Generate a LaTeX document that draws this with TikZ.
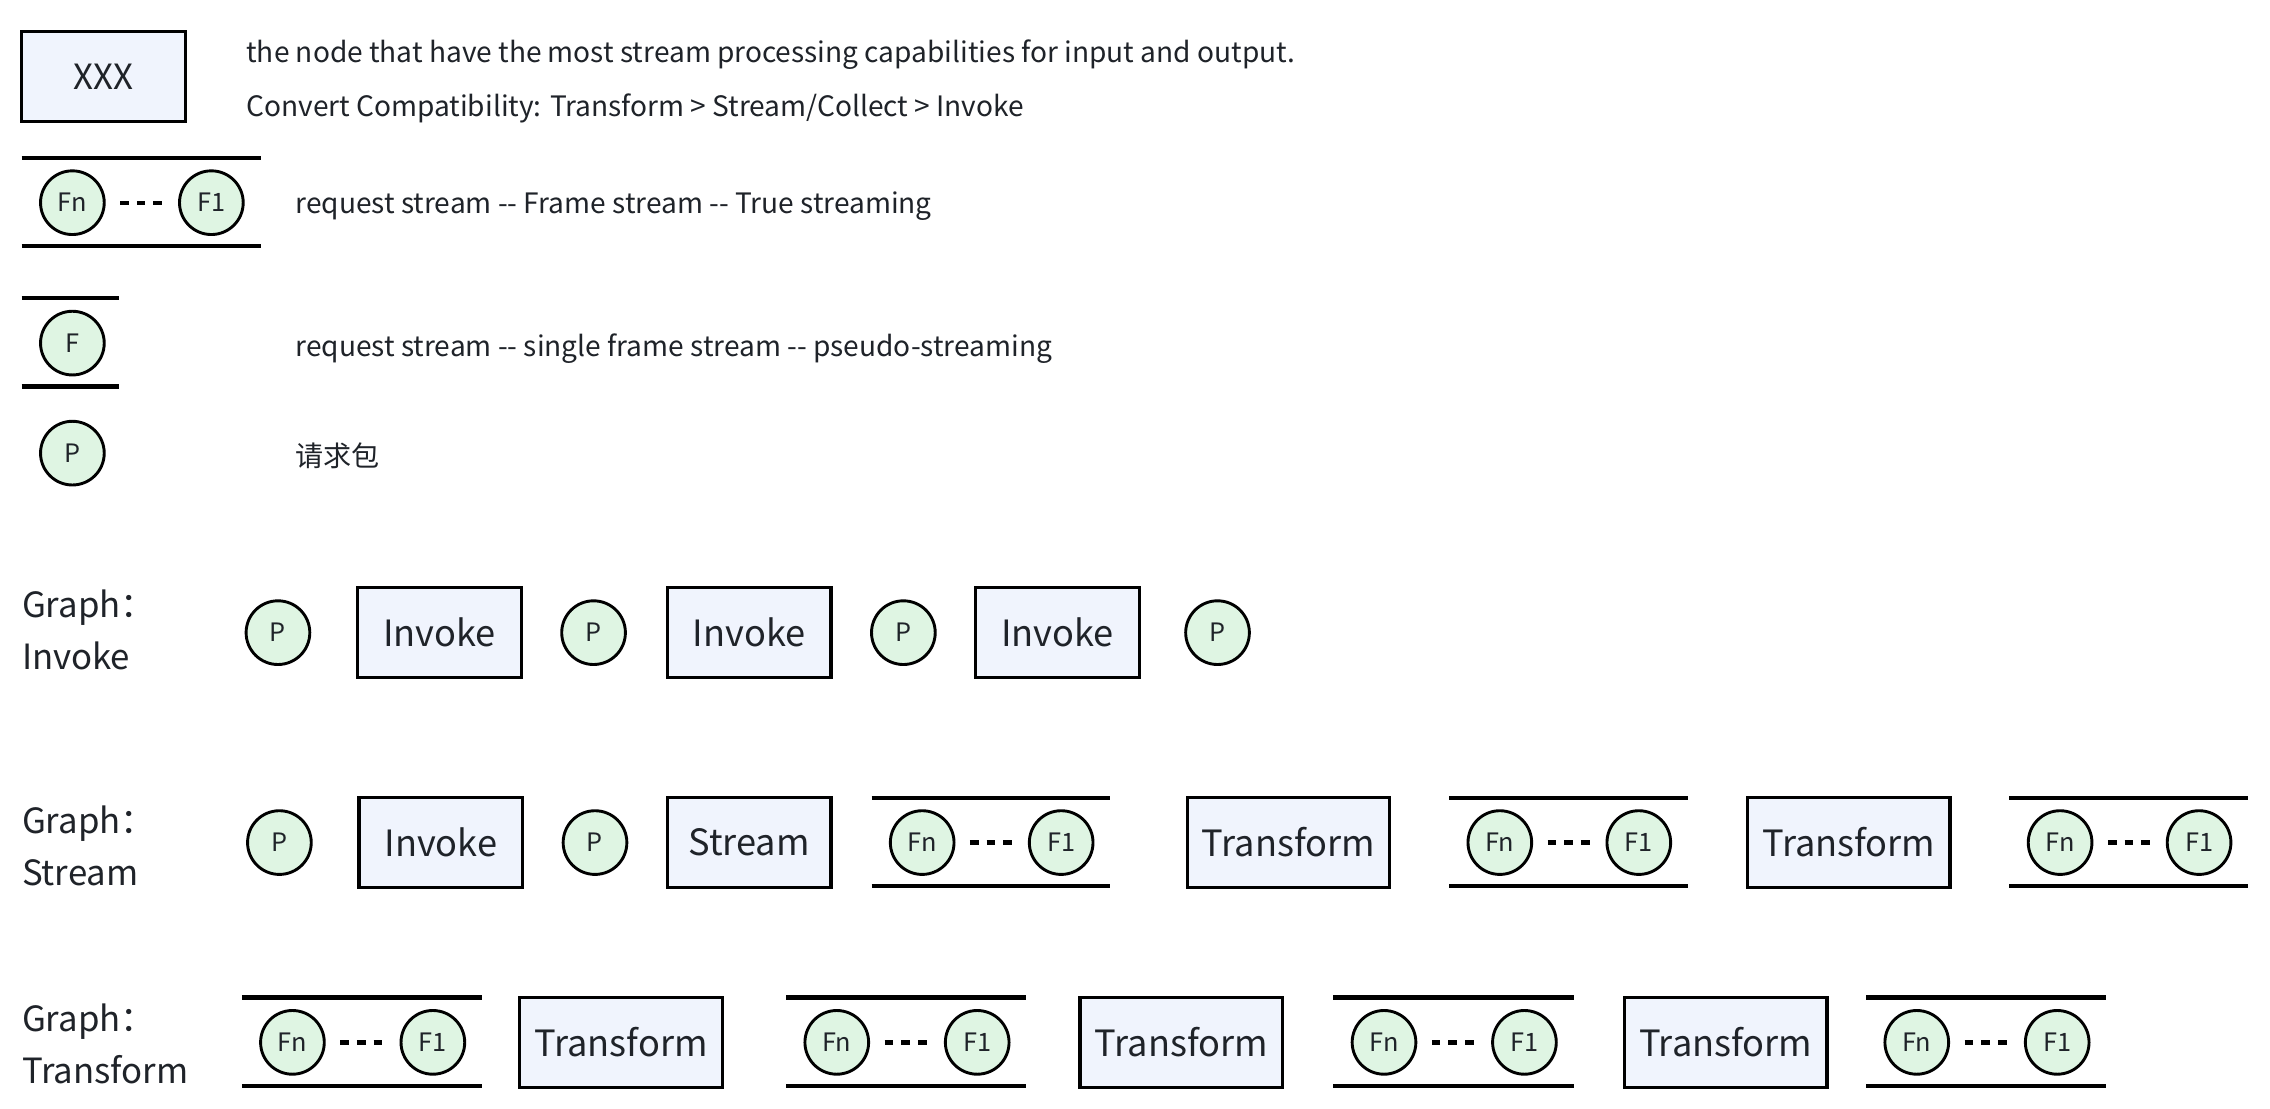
\documentclass[tikz,border=0pt]{standalone}
\usepackage{fontspec}
\setmainfont{Noto Sans CJK SC}[Ligatures=TeXOff]
\usepackage{xcolor}
\usetikzlibrary{positioning}
\definecolor{boxfill}{RGB}{240,244,253}
\definecolor{framefill}{RGB}{223,245,227}
\definecolor{ink}{RGB}{31,35,41}
\tikzset{
  nodebox/.style={draw=black, fill=boxfill, line width=2.2pt, minimum width=113pt, minimum height=62pt, inner sep=0pt, outer sep=0pt, text=ink, font=\fontsize{25}{30}\selectfont},
  widebox/.style={nodebox, minimum width=140pt},
  frame/.style={circle, draw=black, fill=framefill, line width=2pt, minimum size=44pt, inner sep=0pt, outer sep=0pt, text=ink, font=\fontsize{17.5}{20}\selectfont},
  bar/.style={line width=3pt},
  dots/.style={line width=3pt, dash pattern=on 6pt off 5.5pt},
  legend/.style={anchor=west, inner sep=0pt, text=ink, font=\fontsize{19.4}{23}\selectfont},
  graphlabel/.style={anchor=west, align=left, inner sep=0pt, text=ink, font=\fontsize{24}{36}\selectfont},
}

\begin{document}
\begin{tikzpicture}[x=1pt, y=-1pt]
        \path[use as bounding box, fill=white] (0,0) rectangle (1568,766);
        % legend
        \node[nodebox, font=\fontsize{24}{28}\selectfont] (key) at (71.5,53) {XXX};
        \node[legend] (keytext) at (170,38) {the node that have the most stream processing capabilities for input and output.};
        \node[legend] (convtext) at (170,75) {Convert Compatibility: Transform > Stream/Collect > Invoke};
        \node[frame] (keyn) at (50,140) {Fn};
        \node[frame, right=52pt of keyn] (key1) {F1};
        \node[legend] (streamtext) at (204,142.5) {request stream -- Frame stream -- True streaming};
        \node[frame] (keyf) at (50,237) {F};
        \node[legend] (singletext) at (204,240.5) {request stream -- single frame stream -- pseudo-streaming};
        \node[frame] (keyp) at (50,313) {P};
        \node[legend] (packettext) at (204,315) {请求包};
        % graph: invoke
        \node[graphlabel] (ginvoke) at (15,435) {Graph：\\Invoke};
        \node[frame] (ip1) at (192,437) {P};
        \node[nodebox, right=33pt of ip1] (inv1) {Invoke};
        \node[frame, right=28pt of inv1] (ip2) {P};
        \node[nodebox, right=29pt of ip2] (inv2) {Invoke};
        \node[frame, right=28pt of inv2] (ip3) {P};
        \node[nodebox, right=28pt of ip3] (inv3) {Invoke};
        \node[frame, right=32pt of inv3] (ip4) {P};
        % graph: stream
        \node[graphlabel] (gstream) at (15,584) {Graph：\\Stream};
        \node[frame] (sp1) at (193,582) {P};
        \node[nodebox, right=33pt of sp1] (sinv) {Invoke};
        \node[frame, right=28pt of sinv] (sp2) {P};
        \node[nodebox, right=28pt of sp2] (sstream) {Stream};
        \node[frame, right=41pt of sstream] (sAn) {Fn};
        \node[frame, right=52pt of sAn] (sA1) {F1};
        \node[widebox, right=65pt of sA1] (strans1) {Transform};
        \node[frame, right=54pt of strans1] (sBn) {Fn};
        \node[frame, right=52pt of sBn] (sB1) {F1};
        \node[widebox, right=53pt of sB1] (strans2) {Transform};
        \node[frame, right=54pt of strans2] (sCn) {Fn};
        \node[frame, right=52pt of sCn] (sC1) {F1};
        % graph: transform
        \node[graphlabel] (gtrans) at (15,721) {Graph：\\Transform};
        \node[frame] (tAn) at (202,720) {Fn};
        \node[frame, right=53pt of tAn] (tA1) {F1};
        \node[widebox, right=38pt of tA1] (ttrans1) {Transform};
        \node[frame, right=57pt of ttrans1] (tBn) {Fn};
        \node[frame, right=53pt of tBn] (tB1) {F1};
        \node[widebox, right=49pt of tB1] (ttrans2) {Transform};
        \node[frame, right=48pt of ttrans2] (tCn) {Fn};
        \node[frame, right=53pt of tCn] (tC1) {F1};
        \node[widebox, right=47pt of tC1] (ttrans3) {Transform};
        \node[frame, right=40pt of ttrans3] (tDn) {Fn};
        \node[frame, right=53pt of tDn] (tD1) {F1};
        % frame streams
        \foreach \a/\b in {keyn/key1, sAn/sA1, sBn/sB1, sCn/sC1, tAn/tA1, tBn/tB1, tCn/tC1, tDn/tD1} {
            \draw[dots] ([xshift=11pt]\a.east) -- ([xshift=-12pt]\b.west);
            \draw[bar] ([xshift=-35pt, yshift=31pt]\a.center) -- ([xshift=34pt, yshift=31pt]\b.center);
            \draw[bar] ([xshift=-35pt, yshift=-30pt]\a.center) -- ([xshift=34pt, yshift=-30pt]\b.center);
        }
        \draw[bar] ([xshift=-35pt, yshift=31pt]keyf.center) -- ([xshift=32pt, yshift=31pt]keyf.center);
        \draw[bar] ([xshift=-35pt, yshift=-30pt]keyf.center) -- ([xshift=32pt, yshift=-30pt]keyf.center);
\end{tikzpicture}
\end{document}
